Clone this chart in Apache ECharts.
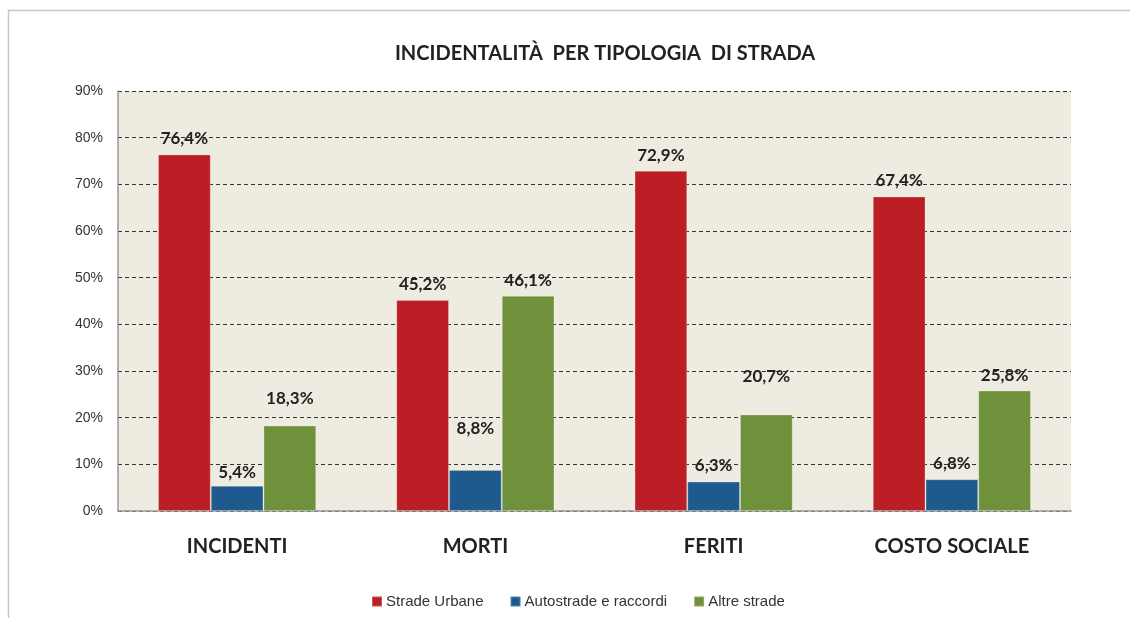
<!DOCTYPE html>
<html>
<head>
<meta charset="utf-8">
<script src="https://cdn.jsdelivr.net/npm/echarts@6/dist/echarts.min.js"></script>
<style>
  html, body { margin: 0; padding: 0; background: #fff; }
  #chart { width: 1130px; height: 618px; }
</style>
</head>
<body>
<div id="chart"></div>
<script>
// Incidentalità per tipologia di strada (valori in %)
const categories = ['INCIDENTI', 'MORTI', 'FERITI', 'COSTO SOCIALE'];
const stradeUrbane = [76.4, 45.2, 72.9, 67.4];
const autostrade = [5.4, 8.8, 6.3, 6.8];
const altreStrade = [18.3, 46.1, 20.7, 25.8];
const yTicks = [0, 10, 20, 30, 40, 50, 60, 70, 80, 90];

const RED = '#BC1E25';
const BLUE = '#1E5A8E';
const GREEN = '#70913B';
const LABEL_FONT = 'Lato, "Noto Sans", sans-serif';
const PLAIN_FONT = '"Liberation Sans", Arial, sans-serif';

// label lift above each bar (some labels sit higher in the original)
const lift = {
  urbane: [7, 7, 7, 7],
  autostrade: [5, 33, 8, 7],
  altre: [19, 7, 29, 7]
};

function pct(v) {
  return v.toFixed(1).replace('.', ',') + '%';
}

function makeSeries(name, values, color, distances) {
  return {
    name: name,
    type: 'bar',
    barGap: 0,
    barCategoryGap: '33.6%',
    itemStyle: { color: color, borderColor: 'rgba(255,255,255,0.25)', borderWidth: 1 },
    data: values.map((v, i) => ({
      value: v,
      label: { distance: distances[i] }
    })),
    label: {
      show: true,
      position: 'top',
      color: '#222',
      fontSize: 17,
      fontWeight: 'bold',
      fontFamily: LABEL_FONT,
      formatter: p => pct(p.value)
    }
  };
}

const chart = echarts.init(document.getElementById('chart'), null, { renderer: 'canvas' });

chart.setOption({
  animation: false,
  graphic: [{
    type: 'rect',
    shape: { x: 8.5, y: 10.5, width: 1200, height: 700 },
    style: { fill: 'none', stroke: '#c8c8c8', lineWidth: 1.5 },
    silent: true
  }],
  title: {
    text: 'INCIDENTALITÀ  PER TIPOLOGIA  DI STRADA',
    left: 600,
    textAlign: 'center',
    top: 39,
    textStyle: {
      fontSize: 20,
      fontWeight: 'bold',
      color: '#222',
      fontFamily: LABEL_FONT
    }
  },
  legend: {
    bottom: 4,
    left: 366,
    itemWidth: 10,
    itemHeight: 10,
    itemGap: 26,
    icon: 'rect',
    textStyle: {
      fontSize: 15,
      color: '#333',
      fontFamily: PLAIN_FONT,
      padding: [0, 0, 0, -1]
    },
    data: ['Strade Urbane', 'Autostrade e raccordi', 'Altre strade']
  },
  grid: {
    left: 118,
    right: 59,
    top: 91,
    bottom: 107,
    show: true,
    backgroundColor: '#EEEBE0',
    borderWidth: 0
  },
  xAxis: {
    type: 'category',
    data: categories,
    axisLine: { lineStyle: { color: '#999', width: 1.5 } },
    axisTick: { show: false },
    axisLabel: {
      margin: 26,
      fontSize: 20,
      fontWeight: 'bold',
      color: '#222',
      fontFamily: LABEL_FONT
    }
  },
  yAxis: {
    type: 'value',
    min: yTicks[0],
    max: yTicks[yTicks.length - 1],
    interval: 10,
    axisLine: { show: true, lineStyle: { color: '#999', width: 1.5 } },
    axisTick: { show: false },
    axisLabel: {
      margin: 15,
      fontSize: 14,
      color: '#333',
      fontFamily: PLAIN_FONT,
      formatter: v => v + '%'
    },
    splitLine: {
      show: true,
      lineStyle: { color: '#333', type: [4, 3], width: 1 }
    }
  },
  series: [
    makeSeries('Strade Urbane', stradeUrbane, RED, lift.urbane),
    makeSeries('Autostrade e raccordi', autostrade, BLUE, lift.autostrade),
    makeSeries('Altre strade', altreStrade, GREEN, lift.altre)
  ]
});
</script>
</body>
</html>
